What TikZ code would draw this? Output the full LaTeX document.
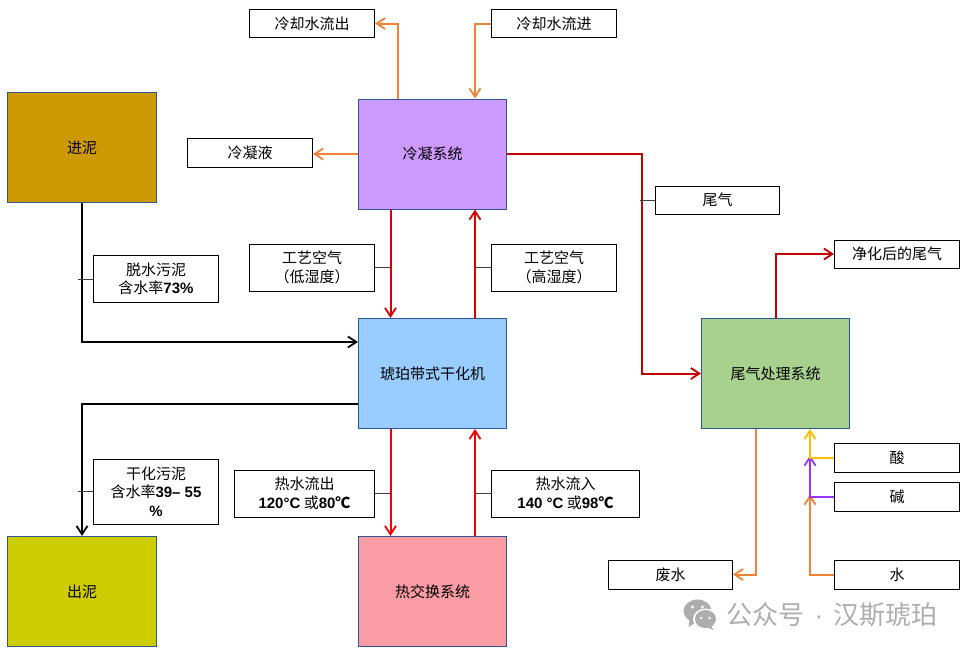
\documentclass[tikz,border=0pt]{standalone}
\usepackage{fontspec}
\setmainfont{Noto Sans CJK SC}
\newfontfamily\latb{Liberation Sans}
\usetikzlibrary{arrows.meta,calc}
\definecolor{orangeL}{HTML}{F08436}
\definecolor{darkredL}{HTML}{C00000}
\definecolor{midredL}{HTML}{D60000}
\definecolor{redL}{HTML}{F00000}
\definecolor{yellowL}{HTML}{FFC000}
\definecolor{purpleL}{HTML}{9933FF}
\definecolor{boxedge}{HTML}{2F5597}
\newcommand{\nm}[1]{{\latb\bfseries #1}}
\tikzset{
  sysbox/.style={draw=boxedge,line width=1pt,minimum width=148pt,minimum height=110pt,inner sep=0pt,font=\fontsize{15}{18}\selectfont},
  lbl/.style={draw=black,line width=1pt,fill=white,inner sep=0pt,align=center,font=\fontsize{15}{18.5}\selectfont},
  flow/.style={line width=2pt,-{Straight Barb[length=8.5pt,width=11pt,line width=1.8pt]}},
  lead/.style={line width=0.8pt,draw=black!75},
}
\begin{document}
\begin{tikzpicture}[x=1pt,y=-1pt]
\useasboundingbox (0,0) rectangle (969,653);
% process boxes
\node[sysbox,minimum width=149.5pt,fill={rgb,255:red,204;green,153;blue,0}] (in) at (82,147.5) {进泥};
\node[sysbox,minimum width=149.5pt,fill={rgb,255:red,204;green,204;blue,0}] (out) at (82,591.5) {出泥};
\node[sysbox,fill={rgb,255:red,204;green,153;blue,255}] (cond) at (432.5,154) {冷凝系统};
\node[sysbox,fill={rgb,255:red,153;green,204;blue,255}] (dry) at (432.5,373.5) {琥珀带式干化机};
\node[sysbox,fill={rgb,255:red,249;green,156;blue,164}] (hex) at (432.5,591.5) {热交换系统};
\node[sysbox,fill={rgb,255:red,169;green,209;blue,142}] (tail) at (775.5,373.5) {尾气处理系统};
% labels
\node[lbl,minimum width=125pt,minimum height=28pt] (cwout) at (312,23.5) {冷却水流出};
\node[lbl,minimum width=125pt,minimum height=28pt] (cwin) at (554,23.5) {冷却水流进};
\node[lbl,minimum width=125pt,minimum height=29pt] (cd) at (250,153) {冷凝液};
\node[lbl,minimum width=124pt,minimum height=28pt] (tg) at (717.5,200) {尾气};
\node[lbl,minimum width=125pt,minimum height=28pt] (clean) at (897,254) {净化后的尾气};
\node[lbl,minimum width=125pt,minimum height=47pt] (ds) at (156,279) {脱水污泥\\含水率\nm{73\%}};
\node[lbl,minimum width=125pt,minimum height=47pt] (al) at (312,267.5) {工艺空气\\（低湿度）};
\node[lbl,minimum width=125pt,minimum height=47pt] (ah) at (554,267.5) {工艺空气\\（高湿度）};
\node[lbl,minimum width=125pt,minimum height=65pt] (dd) at (156,491.5) {干化污泥\\含水率\nm{39– 55}\\\nm{\%}};
\node[lbl,minimum width=140pt,minimum height=47pt] (ho) at (304.5,493.5) {热水流出\\\nm{120°C} 或\nm{80}{\bfseries ℃}};
\node[lbl,minimum width=148pt,minimum height=47pt] (hi) at (565.5,493.5) {热水流入\\\nm{140 °C} 或\nm{98}{\bfseries ℃}};
\node[lbl,minimum width=125pt,minimum height=29pt] (acid) at (897,457.5) {酸};
\node[lbl,minimum width=125pt,minimum height=29pt] (base) at (897,496.5) {碱};
\node[lbl,minimum width=125pt,minimum height=29pt] (water) at (897,574.5) {水};
\node[lbl,minimum width=124pt,minimum height=29pt] (waste) at (670.5,574.5) {废水};
% orange flows
\draw[flow,orangeL] ([xshift=-35pt]cond.north) |- (cwout.east);
\draw[flow,orangeL] (cwin.west) -| ([xshift=42.5pt]cond.north);
\draw[flow,orangeL] (cond.west) -- (cond.west -| cd.east);
\draw[flow,orangeL] ([xshift=-20pt]tail.south) |- (waste.east);
% red flows
\draw[flow,darkredL] (cond.east) -- ++(135,0) |- (tail.west);
\draw[flow,darkredL] (tail.north) |- (clean.west);
\draw[flow,midredL] ([xshift=-42pt]cond.south) -- ([xshift=-42pt]dry.north);
\draw[flow,midredL] ([xshift=42.5pt]dry.north) -- ([xshift=42.5pt]cond.south);
\draw[flow,redL] ([xshift=-42pt]dry.south) -- ([xshift=-42pt]hex.north);
\draw[flow,redL] ([xshift=42.5pt]hex.north) -- ([xshift=42.5pt]dry.south);
% black flows
\coordinate (dryin) at (dry.west |- 0,342);
\coordinate (dryout) at (dry.west |- 0,404);
\draw[flow,black] (in.south) |- (dryin);
\draw[flow,black] (dryout) -| (out.north);
% reagents
\coordinate (m) at ([xshift=34.5pt]tail.south);
\coordinate (mAcid) at (m |- acid.west);
\coordinate (mBase) at (m |- base.west);
\coordinate (mWater) at (m |- water.west);
\draw[flow,orangeL] (water.west) -- (mWater) -- ([yshift=2pt]mBase);
\draw[flow,purpleL] (base.west) -- (mBase) -- ([yshift=2pt]mAcid);
\draw[flow,yellowL] (acid.west) -- (mAcid) -- (m);
% leaders
\draw[lead] (tg.west) -- ++(-15,0);
\draw[lead] (ds.west) -- ++(-15,0);
\draw[lead] (dd.west) -- ++(-15,0);
\draw[lead] (al.east) -- ++(16,0);
\draw[lead] (ah.west) -- ++(-16,0);
\draw[lead] (ho.east) -- ++(16,0);
\draw[lead] (hi.west) -- ++(-16,0);
% watermark
\begin{scope}[xshift=-2.5pt]
\fill[black!32] (700,611) ellipse (14pt and 11.5pt);
\fill[black!32] (692,620) -- (691,627) -- (699,622) -- cycle;
\fill[white] (708,619) ellipse (12.5pt and 10.5pt);
\fill[black!32] (708,619) ellipse (10.5pt and 9pt);
\fill[black!32] (713,625) -- (716,630) -- (709,627) -- cycle;
\fill[white] (695,607) circle (1.7pt) (705,607) circle (1.7pt) (703.5,618) circle (1.4pt) (712,618) circle (1.4pt);
\end{scope}
\node[text=black!32,inner sep=0pt,font=\fontsize{26}{28}\selectfont] (mark) at (832,614.5) {公众号\hspace{10.5pt}{\latb ·}\hspace{10.5pt}汉斯琥珀};
\end{tikzpicture}
\end{document}
